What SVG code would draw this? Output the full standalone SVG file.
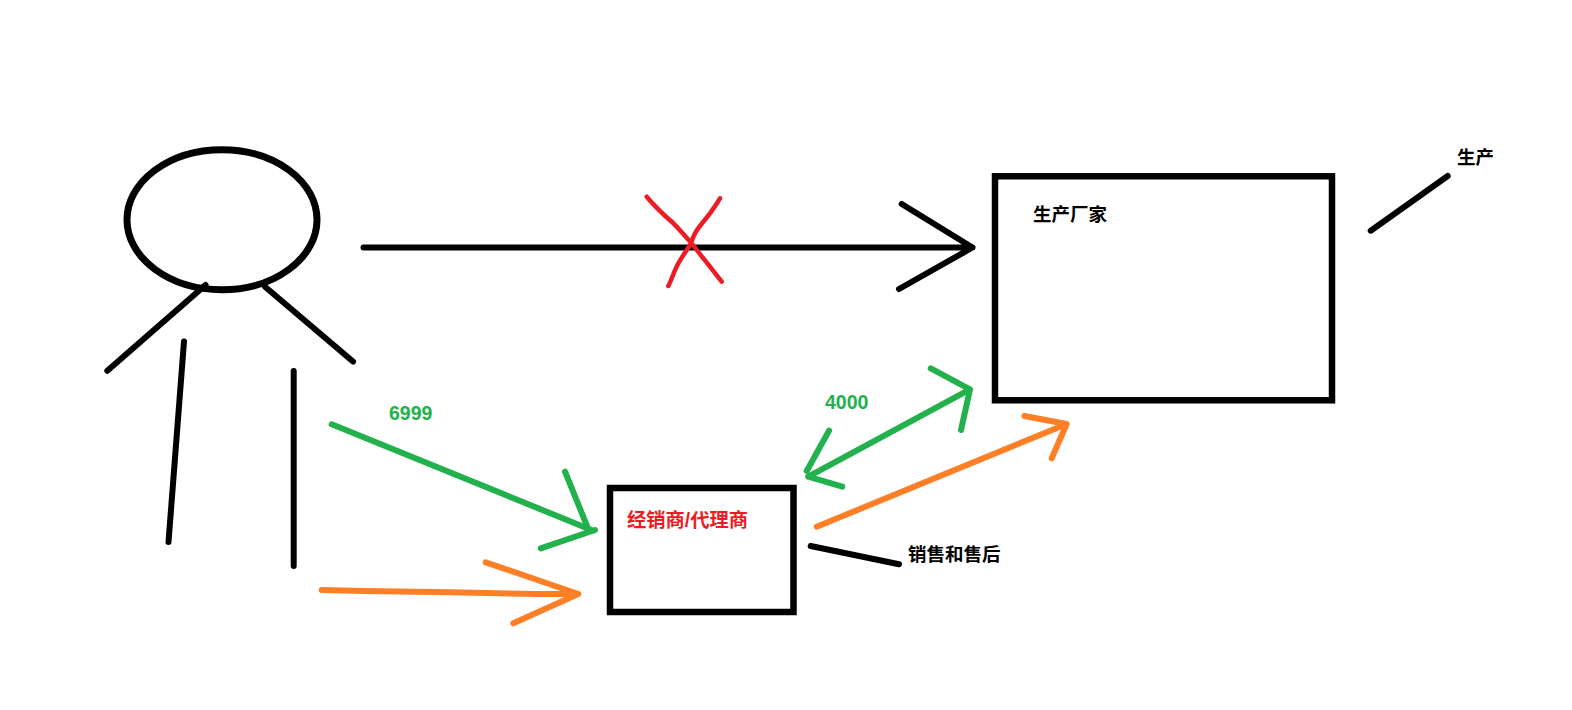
<svg xmlns="http://www.w3.org/2000/svg" width="1572" height="710" viewBox="0 0 1572 710">
<style>
.s{fill:none;stroke-linecap:round;stroke-linejoin:round;stroke-width:6}
.k{stroke:#000}.g{stroke:#22b14c}.o{stroke:#ff7f27}.r{stroke:#ed1c24;stroke-width:4.500}
.b{fill:#fff;stroke:#000;stroke-width:6.500}
text{font-family:"Liberation Sans","Noto Sans CJK SC",sans-serif;font-size:18.500px;font-weight:700}
.n{font-size:19.500px}
</style>
<rect width="1572" height="710" fill="#fff"/>
<g id="person">
<ellipse class="s k" cx="222" cy="219.700" rx="95" ry="70" style="stroke-width:7"/>
<path class="s k" d="M205.500 285L107.300 370.700M265 286.700L353 361.500M184 341.500L168.500 542M293.700 371V566"/>
</g>
<g id="factory">
<rect class="b" x="995" y="176.300" width="337" height="224"/>
<text x="1033" y="220.500">生产厂家</text>
</g>
<g id="dealer">
<rect class="b" x="610" y="488" width="183.500" height="124"/>
<text x="627" y="526.500" fill="#ed1c24" style="font-size:19.300px">经销商/代理商</text>
</g>
<g id="production-note">
<path class="s k" d="M1370.700 230.700L1447.700 176"/>
<text x="1457" y="164">生产</text>
</g>
<g id="service-note">
<path class="s k" d="M810.700 546L899 564.300"/>
<text x="908" y="560.500">销售和售后</text>
</g>
<g id="connectors">
<path class="s k" d="M363.500 247.500H972.500M901.700 204L972.500 247.500L899 289"/>
<path class="r s" d="M646.700 196.700C656 208 664 215 671.700 221.700C680 230 685 236 691.700 243.300C698 252 704 259 710 266.700C714 272 718 277 721.700 281.700M720 198.300C716 205 713 209 710 213.300C705 220 699 226 695 233.300C693 237 692 241 690 245C686 251 682 257 678.300 263.300C674 271 672 279 668.300 286"/>
<path class="s g" d="M331.700 424.300L593.300 530.700M565 471.700L588 528.300M540.700 548.300L595 530"/>
<path class="s o" d="M321.700 590L365 591L450 592.300L535 594L578.300 594M485.700 562.300L578.300 594L513.300 623.300"/>
<path class="s g" d="M808.300 476.700L970 389.300M930.700 368.300L970 389.300L961 430M829 430.700L806.700 471M808.300 476.700L842.300 486.700"/>
<path class="s o" d="M816.700 526.700L1066.700 424M1024.300 416L1066.700 424L1051.700 458.300"/>
</g>
<text class="n" x="389" y="420" fill="#22b14c">6999</text>
<text class="n" x="825" y="409" fill="#22b14c">4000</text>
</svg>
